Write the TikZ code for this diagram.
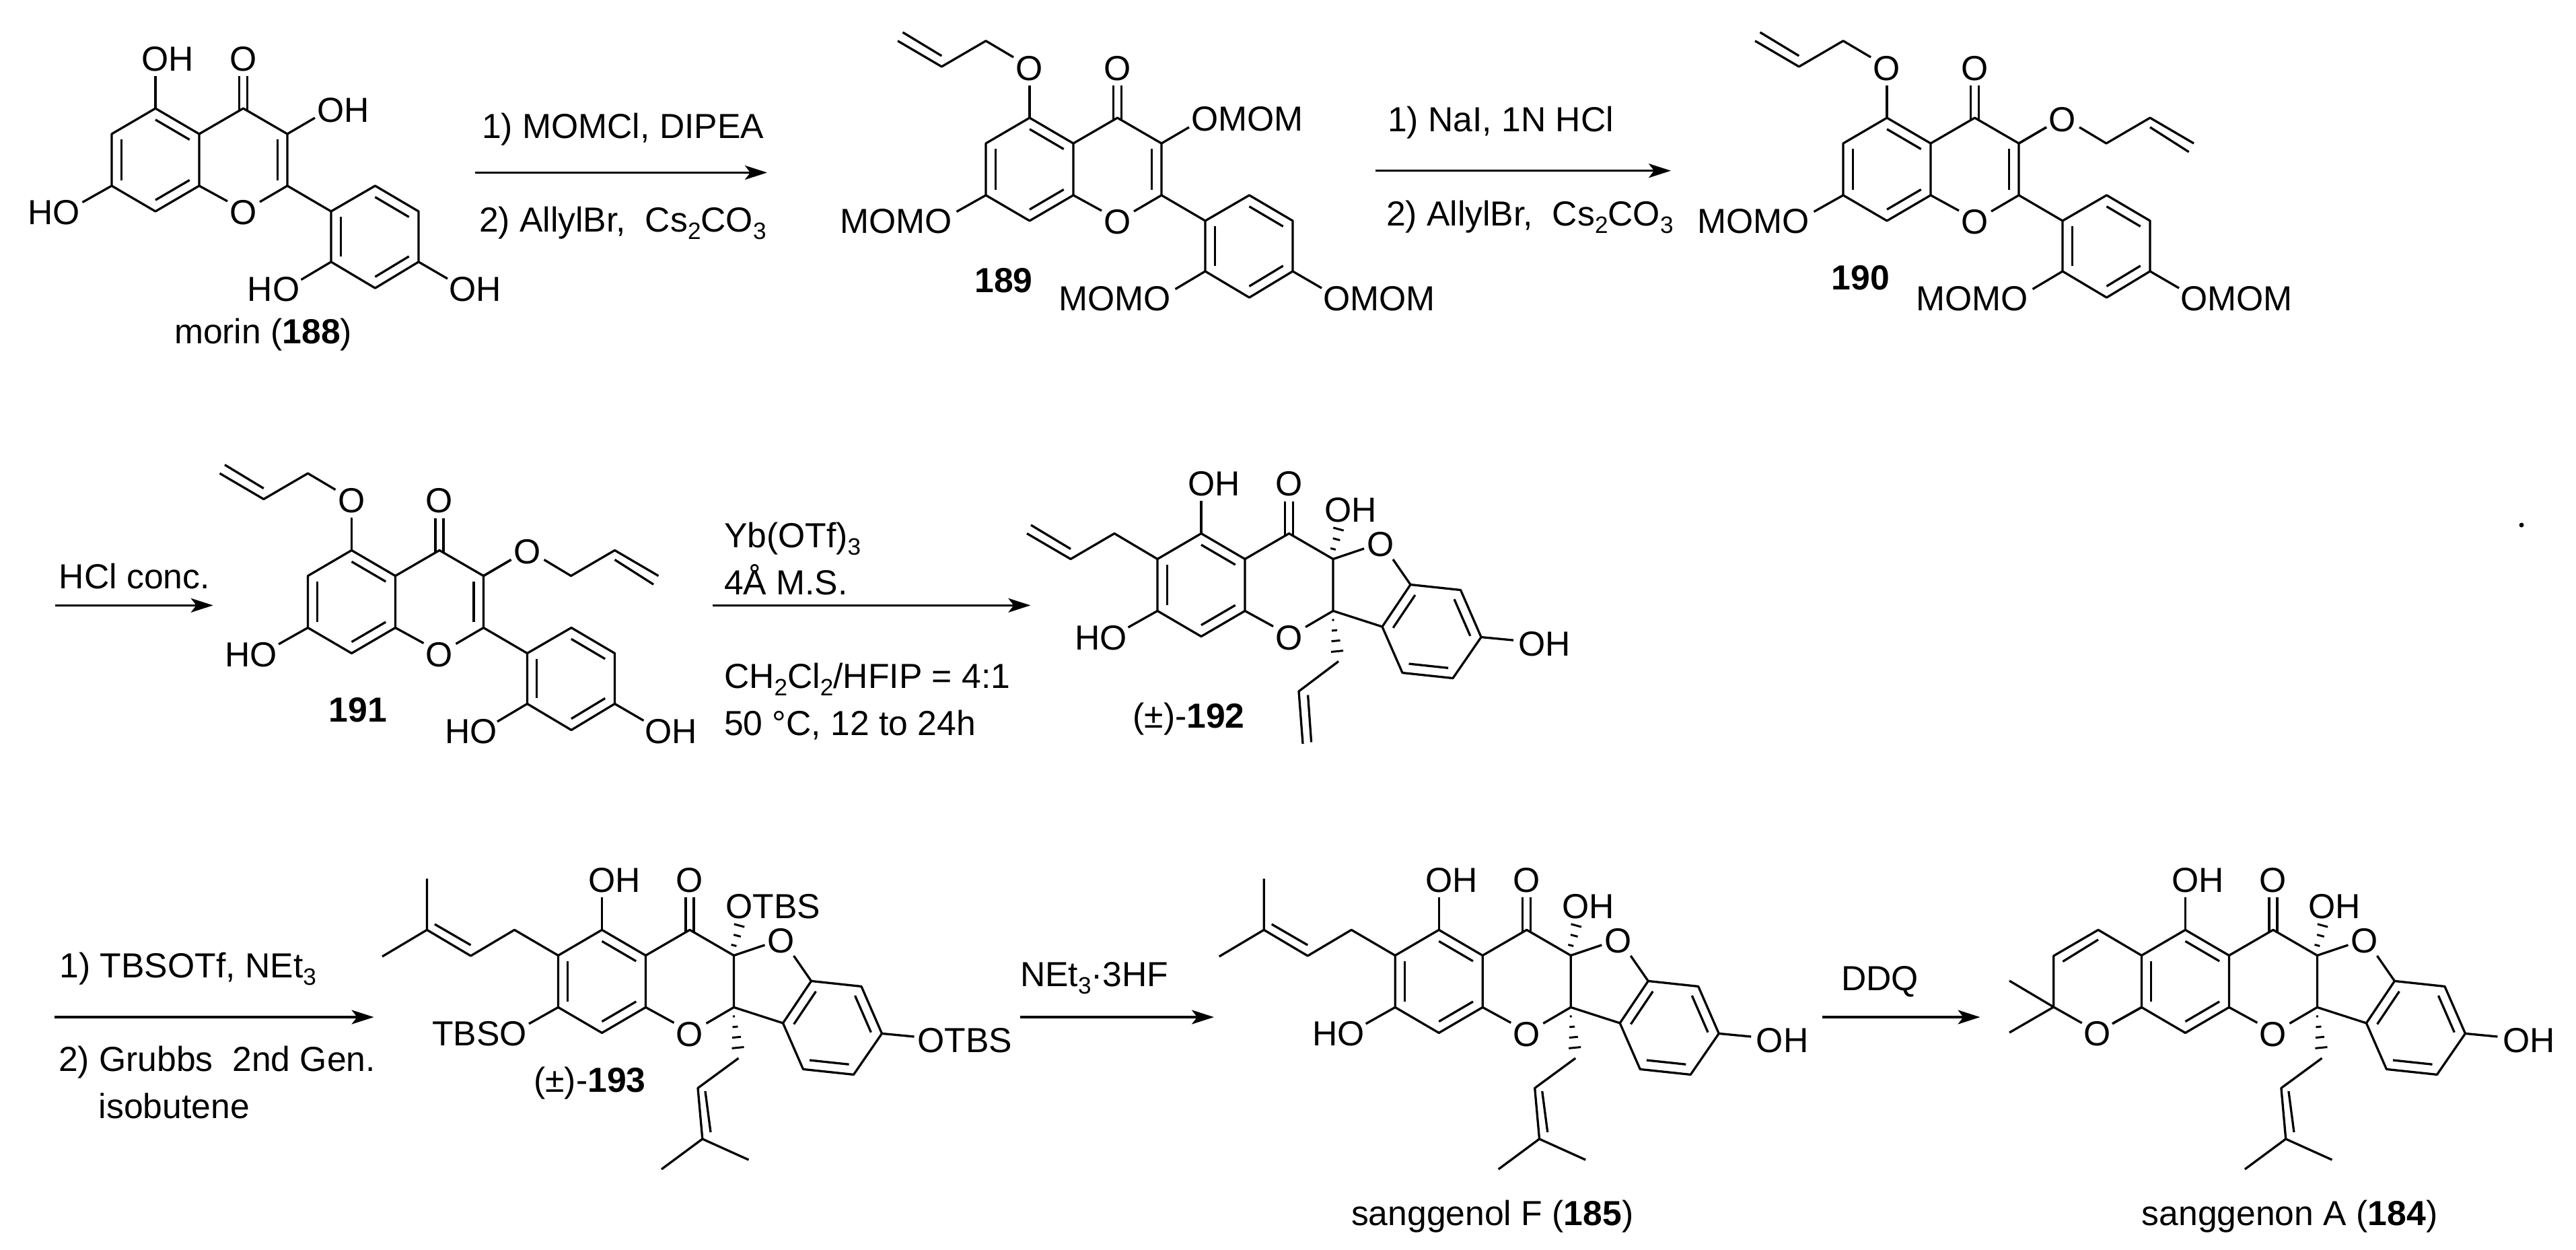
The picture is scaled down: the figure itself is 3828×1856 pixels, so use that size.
\documentclass[tikz,border=0pt]{standalone}
\usepackage{fontspec}
\setmainfont{Liberation Sans}
\usetikzlibrary{calc,arrows.meta}
\tikzset{
  bond/.style={line width=.33mm,line join=round},
  hashd/.style={line width=.3mm},
  rxn/.style={line width=.32mm,-{Stealth[length=3.3mm,width=2.1mm,inset=.8mm]}},
  lab/.style={inner sep=0,outer sep=0,font=\fontsize{14.7}{14.7}\selectfont},
  txt/.style={lab,anchor=base west},
  num/.style={lab,font=\fontsize{14.7}{14.7}\selectfont\bfseries}
}
\newcommand{\chsub}[1]{\raisebox{-1.1mm}{\fontsize{10}{10}\selectfont #1}}
\newcommand{\dbl}[3]{\draw[bond] ($(#1)!.22!(#3)$) -- ($(#2)!.22!(#3)$);}
% common A/C ring skeleton, origin at C5
\newcommand{\skeleton}[1]{%
  \coordinate (C5) at (0,0);\coordinate (Ca) at (65,38);\coordinate (Cb) at (65,115);
  \coordinate (C8) at (0,153);\coordinate (C7) at (-65,115);\coordinate (C6) at (-65,38);
  \coordinate (C4) at (130.5,0);\coordinate (C3) at (196,38);\coordinate (C2) at (196,115);
  \coordinate (cA) at (0,76.5);\coordinate (cC) at (130.5,76.5);
  \draw[bond] (C5)--(Ca)--(Cb)--(C8)--(C7)--(C6)--cycle;
  \draw[bond] (Ca)--(C4)--(C3)--(C2)--(155,139);
  \draw[bond] (Cb)--(107,138);
  \dbl{C5}{Ca}{cA}\dbl{C8}{Cb}{cA}\dbl{C6}{C7}{cA}
  \draw[bond] (124.5,-48)--(124.5,3.5) (136.5,-48)--(136.5,3.5);
  \draw[bond] (C5)--(0,-48.5);
  \draw[bond] (C7)--(-108.5,139.5);
  \node[lab] (#1oxo) at (130.5,-73.5) {O};
  \node[lab] (#1oring) at (130.5,155) {O};
}
% flavone additions: C2=C3 and 2,4-substituted phenyl
\newcommand{\flavone}{%
  \dbl{C3}{C2}{cC}
  \coordinate (P1) at (261,153);\coordinate (P2) at (261,228);\coordinate (P3) at (326.5,267);
  \coordinate (P4) at (391,228);\coordinate (P5) at (391,153);\coordinate (P6) at (326.5,115);
  \coordinate (cB) at (326,191);
  \draw[bond] (C2)--(P1);
  \draw[bond] (P1)--(P2)--(P3)--(P4)--(P5)--(P6)--cycle;
  \dbl{P1}{P2}{cB}\dbl{P3}{P4}{cB}\dbl{P5}{P6}{cB}
  \draw[bond] (P2)--(216.5,254.5) (P4)--(434,253);
  \draw[bond] (C3)--(237,14);
}
% 5-O-allyl
\newcommand{\oallyl}[1]{%
  \draw[bond] (-24,-90)--(-65,-114.3)--(-130.7,-76)--(-196,-114.3);
  \draw[bond] (-188.5,-127)--(-130.7,-92);
  \node[lab] (#1oa) at (0,-73.5) {O};
}
% 3-O-allyl
\newcommand{\thrallyl}[1]{%
  \draw[bond] (C3)--(237,14);
  \draw[bond] (286,14)--(326,38)--(391,0)--(456,38);
  \draw[bond] (391,14)--(448.6,50.7);
  \node[lab] (#1ob) at (261,2.5) {O};
}
% benzofuran part
\newcommand{\furan}[2]{%
  \coordinate (Fa) at (311,76);\coordinate (Fb) at (385.5,84);\coordinate (Fc) at (416,154);
  \coordinate (Fd) at (374,215);\coordinate (Fe) at (299,207);\coordinate (Ff) at (269,138.5);
  \coordinate (cF) at (342.5,146);
  \draw[bond] (C3)--(242,22.5);
  \draw[bond] (285,38.5)--(Fa);
  \draw[bond] (Fa)--(Fb)--(Fc)--(Fd)--(Fe)--(Ff)--cycle;
  \draw[bond] (C2)--(Ff);
  \dbl{Fa}{Ff}{cF}\dbl{Fb}{Fc}{cF}\dbl{Fd}{Fe}{cF}
  \draw[hashd] (192.1,22)--(199.9,24) (195.7,7.2)--(206.3,10) (196.3,-8.6)--(211.7,-4.4);
  \draw[hashd] (194.5,128.6)--(197.5,128.4) (194,144.4)--(202,143.6) (193.5,160.1)--(206.5,158.9) (193,175.9)--(211,174.1);
  \node[lab] (#1of) at (266.5,16.5) {O};
  \draw[bond] (Fc)--(464,158.6);
}
\newcommand{\prenylA}{%
  \draw[bond] (C6)--(-130,0)--(-195,38.6)--(-260,0)--(-260,-76);
  \draw[bond] (-260,0)--(-326.5,39.6);
  \draw[bond] (-248.5,-8.4)--(-195,22.6);
}
\newcommand{\prenylB}{%
  \draw[bond] (203,190.6)--(142.5,235)--(149.3,310.6);
  \draw[bond] (153.5,239.6)--(161.5,300.6);
  \draw[bond] (88.5,355.6)--(149.3,310.6)--(218,341.6);
}
\begin{document}
\begin{tikzpicture}[x=.1mm,y=-.1mm]
\useasboundingbox (0,0) rectangle (3828,1856);
\fill[white] (0,0) rectangle (3828,1856);

% ---------- morin 188
\begin{scope}[shift={(231,161)}]
  \skeleton{m}\flavone
  \node[lab] (mohf) at (18,-73.5) {OH};
  \node[lab] (moht) at (279,3) {OH};
  \node[lab] (mhos) at (-151,155) {HO};
  \node[lab] (mhop) at (175.5,269) {HO};
  \node[lab] (mohp) at (475,269) {OH};
\end{scope}
\node[txt] (mname) at (259,510.7) {morin (\textbf{188})};

\coordinate (a1s) at (706,256.4);\coordinate (a1e) at (1140,256.4);
\draw[rxn] (a1s)--(a1e);
\node[txt] (a1t) at (716,205.4) {1) MOMCl, DIPEA};
\node[txt] (a1b) at (712,344.6) {2) AllylBr,\ \ Cs\chsub{2}CO\chsub{3}};

% ---------- 189
\begin{scope}[shift={(1530,175)}]
  \skeleton{b}\flavone\oallyl{b}
  \node[lab,anchor=west] (bmt) at (240,2) {OMOM};
  \node[lab,anchor=east] (bms) at (-115,154) {MOMO};
  \node[lab,anchor=east] (bmp) at (210,269) {MOMO};
  \node[lab,anchor=west] (bmq) at (436,269) {OMOM};
\end{scope}
\node[num] (bnum) at (1491.4,416.8) {189};

\coordinate (a2s) at (2044,253.6);\coordinate (a2e) at (2483,253.6);
\draw[rxn] (a2s)--(a2e);
\node[txt] (a2t) at (2062,195.4) {1) NaI, 1N HCl};
\node[txt] (a2b) at (2060,335.7) {2) AllylBr,\ \ Cs\chsub{2}CO\chsub{3}};

% ---------- 190
\begin{scope}[shift={(2804,175)}]
  \skeleton{c}\flavone\oallyl{c}\thrallyl{c}
  \node[lab,anchor=east] (cms) at (-115,154) {MOMO};
  \node[lab,anchor=east] (cmp) at (210,269) {MOMO};
  \node[lab,anchor=west] (cmq) at (436,269) {OMOM};
\end{scope}
\node[num] (cnum) at (2765,412.5) {190};

% ---------- row 2
\coordinate (a3s) at (81.6,899.3);\coordinate (a3e) at (316.7,899.3);
\draw[rxn] (a3s)--(a3e);
\node[txt] (a3t) at (88,874.3) {HCl conc.};

\begin{scope}[shift={(522.5,817.5)}]
  \skeleton{d}\flavone\oallyl{d}\thrallyl{d}
  \node[lab] (dhos) at (-149.5,155.5) {HO};
  \node[lab] (dhop) at (177.5,269.5) {HO};
  \node[lab] (dohp) at (475,269.5) {OH};
\end{scope}
\node[num] (dnum) at (532,1055) {191};

\coordinate (a4s) at (1059,899.3);\coordinate (a4e) at (1531.4,899.3);
\draw[rxn] (a4s)--(a4e);
\node[txt] (a4a) at (1076,813.6) {Yb(OTf)\chsub{3}};
\node[txt] (a4b) at (1076,883.6) {4Å M.S.};
\node[txt] (a4c) at (1076,1022.9) {CH\chsub{2}Cl\chsub{2}/HFIP = 4:1};
\node[txt] (a4d) at (1076,1092) {50 °C, 12 to 24h};

\begin{scope}[shift={(1785,792.5)}]
  \skeleton{e}\furan{e}{}
  \draw[bond] (C6)--(-129,0)--(-194,38)--(-259,0);
  \draw[bond] (-253,-12.5)--(-194,23);
  \draw[bond] (204,190)--(145,234.5)--(151,312.5);
  \draw[bond] (158.6,240)--(163.6,310);
  \node[lab] (eohf) at (19,-73.5) {OH};
  \node[lab] (eoht) at (222,-35) {OH};
  \node[lab] (ehos) at (-149,155.5) {HO};
  \node[lab] (eohr) at (510.5,164.5) {OH};
\end{scope}
\node[lab] (enum) at (1766.5,1068) {(±)-\textbf{192}};

% ---------- row 3
\coordinate (a5s) at (81,1511);\coordinate (a5e) at (555.6,1511);
\draw[rxn] (a5s)--(a5e);
\node[txt] (a5a) at (88.7,1452) {1) TBSOTf, NEt\chsub{3}};
\node[txt] (a5b) at (87,1591.7) {2) Grubbs\ \ 2nd Gen.};
\node[txt] (a5c) at (146.8,1661) {isobutene};

\begin{scope}[shift={(894.5,1381.4)}]
  \skeleton{f}\furan{f}{}\prenylA\prenylB
  \node[lab] (fohf) at (19,-74) {OH};
  \node[lab,anchor=west] (fott) at (184,-35) {OTBS};
  \node[lab] (ftbs) at (-182,154) {TBSO};
  \node[lab,anchor=west] (fotr) at (469,164) {OTBS};
\end{scope}
\node[lab] (fnum) at (876.5,1609) {(±)-\textbf{193}};

\coordinate (a6s) at (1516,1511);\coordinate (a6e) at (1804,1511);
\draw[rxn] (a6s)--(a6e);
\node[txt] (a6a) at (1516,1465) {NEt\chsub{3}·3HF};

\begin{scope}[shift={(2138.2,1381.4)}]
  \skeleton{g}\furan{g}{}\prenylA\prenylB
  \node[lab] (gohf) at (19,-74) {OH};
  \node[lab] (goht) at (222,-35) {OH};
  \node[lab] (ghos) at (-149,154) {HO};
  \node[lab] (gohr) at (510.5,164) {OH};
\end{scope}
\node[txt] (gname) at (2008,1820.8) {sanggenol F (\textbf{185})};

\coordinate (a7s) at (2708,1511);\coordinate (a7e) at (2942.5,1511);
\draw[rxn] (a7s)--(a7e);
\node[txt] (a7a) at (2736,1471) {DDQ};

\begin{scope}[shift={(3247.4,1381.4)}]
  \skeleton{h}\furan{h}{}\prenylB
  \draw[bond] (C6)--(-129.4,0)--(-195.7,38.6)--(-195.7,114.6)--(-153.7,138.4);
  \draw[bond] (C7)--(-107,138.4);
  \draw[bond] (-129.4,14.5)--(-182,47);
  \draw[bond] (-261.4,75.6)--(-195.7,114.6)--(-261.4,152.6);
  \node[lab] (hopy) at (-131,154) {O};
  \node[lab] (hohf) at (19,-74) {OH};
  \node[lab] (hoht) at (222,-35) {OH};
  \node[lab] (hohr) at (510.5,164) {OH};
\end{scope}
\node[txt] (hname) at (3182.7,1820.8) {sanggenon A (\textbf{184})};

\fill (3747,780) circle (3.5);
\end{tikzpicture}
\end{document}
